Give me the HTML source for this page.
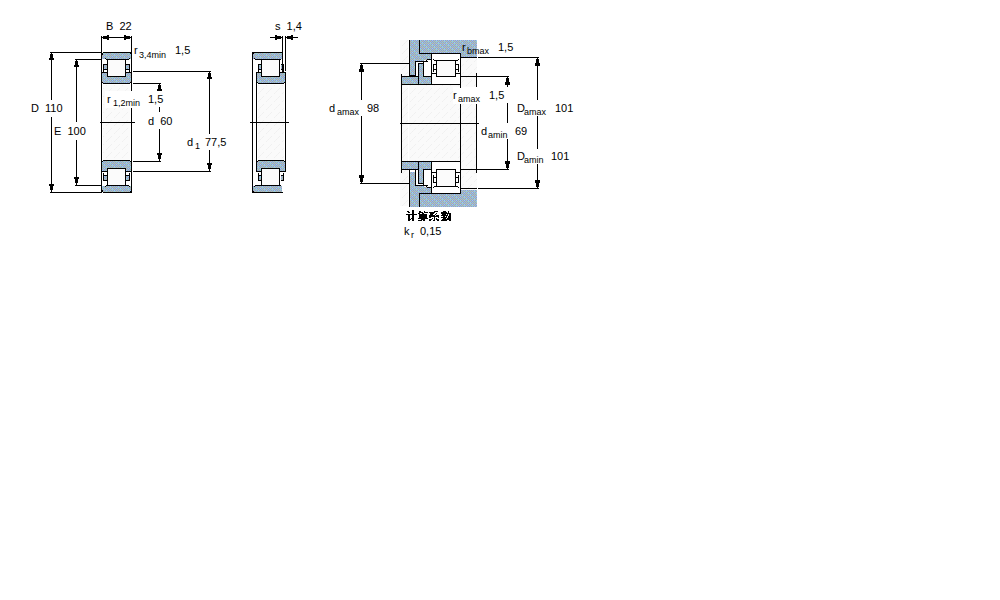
<!DOCTYPE html>
<html><head><meta charset="utf-8"><style>
html,body{margin:0;padding:0;background:#fff;width:1000px;height:600px;overflow:hidden}
svg{display:block}
text{font-family:"Liberation Sans",sans-serif;fill:#000}
</style></head><body>
<svg width="1000" height="600" viewBox="0 0 1000 600" shape-rendering="crispEdges">
<defs>
<filter id="bin" x="0" y="0" width="1000" height="600" filterUnits="userSpaceOnUse" color-interpolation-filters="sRGB">
<feComponentTransfer><feFuncA type="discrete" tableValues="0 1 1 1"/></feComponentTransfer>
</filter>
<pattern id="dith" x="0" y="0" width="8" height="8" patternUnits="userSpaceOnUse">
<rect width="8" height="8" fill="#99cccc"/>
<rect x="0" y="0" width="1" height="1" fill="#99ccff"/>
<rect x="1" y="0" width="1" height="1" fill="#9999cc"/>
<rect x="3" y="0" width="1" height="1" fill="#9999cc"/>
<rect x="4" y="0" width="1" height="1" fill="#99ccff"/>
<rect x="5" y="0" width="1" height="1" fill="#9999cc"/>
<rect x="7" y="0" width="1" height="1" fill="#9999cc"/>
<rect x="0" y="1" width="1" height="1" fill="#9999cc"/>
<rect x="2" y="1" width="1" height="1" fill="#b8a0a8"/>
<rect x="6" y="1" width="1" height="1" fill="#b8a0a8"/>
<rect x="1" y="2" width="1" height="1" fill="#9999cc"/>
<rect x="3" y="2" width="1" height="1" fill="#9999cc"/>
<rect x="5" y="2" width="1" height="1" fill="#9999cc"/>
<rect x="6" y="2" width="1" height="1" fill="#99ccff"/>
<rect x="7" y="2" width="1" height="1" fill="#9999cc"/>
<rect x="0" y="3" width="1" height="1" fill="#b8a0a8"/>
<rect x="2" y="3" width="1" height="1" fill="#b8a0a8"/>
<rect x="4" y="3" width="1" height="1" fill="#b8a0a8"/>
<rect x="0" y="4" width="1" height="1" fill="#99ccff"/>
<rect x="1" y="4" width="1" height="1" fill="#9999cc"/>
<rect x="3" y="4" width="1" height="1" fill="#9999cc"/>
<rect x="4" y="4" width="1" height="1" fill="#99ccff"/>
<rect x="5" y="4" width="1" height="1" fill="#9999cc"/>
<rect x="7" y="4" width="1" height="1" fill="#9999cc"/>
<rect x="2" y="5" width="1" height="1" fill="#b8a0a8"/>
<rect x="4" y="5" width="1" height="1" fill="#9999cc"/>
<rect x="6" y="5" width="1" height="1" fill="#b8a0a8"/>
<rect x="1" y="6" width="1" height="1" fill="#9999cc"/>
<rect x="2" y="6" width="1" height="1" fill="#99ccff"/>
<rect x="3" y="6" width="1" height="1" fill="#9999cc"/>
<rect x="5" y="6" width="1" height="1" fill="#9999cc"/>
<rect x="7" y="6" width="1" height="1" fill="#9999cc"/>
<rect x="0" y="7" width="1" height="1" fill="#b8a0a8"/>
<rect x="4" y="7" width="1" height="1" fill="#b8a0a8"/>
<rect x="6" y="7" width="1" height="1" fill="#b8a0a8"/>
</pattern>
<pattern id="hatch" x="0" y="0" width="8" height="8" patternUnits="userSpaceOnUse">
<rect width="8" height="8" fill="#fafafa"/>
<rect x="7" y="0" width="1" height="1" fill="#f0f0f0"/><rect x="6" y="1" width="1" height="1" fill="#f0f0f0"/>
<rect x="5" y="2" width="1" height="1" fill="#f3f3f3"/><rect x="4" y="3" width="1" height="1" fill="#f0f0f0"/>
<rect x="3" y="4" width="1" height="1" fill="#f3f3f3"/><rect x="2" y="5" width="1" height="1" fill="#f0f0f0"/>
</pattern>
</defs>
<rect x="103" y="85" width="27" height="75" fill="url(#hatch)"/>
<rect x="102" y="53" width="29" height="6" fill="url(#dith)"/>
<rect x="103" y="52" width="29" height="1" fill="#000"/>
<rect x="102" y="53" width="1" height="2" fill="#000"/>
<rect x="106" y="59" width="23" height="1" fill="#000"/>
<rect x="105" y="58" width="1" height="1" fill="#000"/>
<rect x="129" y="58" width="1" height="1" fill="#000"/>
<rect x="102" y="60" width="5" height="12" fill="#ffffff"/>
<rect x="126" y="60" width="5" height="12" fill="#ffffff"/>
<rect x="103" y="64" width="1" height="8" fill="#000"/>
<rect x="103" y="64" width="4" height="1" fill="#000"/>
<rect x="104" y="65" width="3" height="4" fill="url(#dith)"/>
<rect x="103" y="69" width="4" height="1" fill="#000"/>
<rect x="129" y="64" width="1" height="8" fill="#000"/>
<rect x="126" y="64" width="4" height="1" fill="#000"/>
<rect x="126" y="65" width="3" height="4" fill="url(#dith)"/>
<rect x="126" y="69" width="4" height="1" fill="#000"/>
<rect x="102" y="73" width="5" height="10" fill="url(#dith)"/>
<rect x="126" y="73" width="5" height="10" fill="url(#dith)"/>
<rect x="107" y="76" width="19" height="7" fill="url(#dith)"/>
<rect x="101" y="72" width="7" height="1" fill="#000"/>
<rect x="125" y="72" width="7" height="1" fill="#000"/>
<rect x="103" y="83" width="27" height="1" fill="#000"/>
<rect x="102" y="82" width="1" height="1" fill="#000"/>
<rect x="130" y="82" width="1" height="1" fill="#000"/>
<rect x="108" y="60" width="17" height="16" fill="#fbfbfb"/>
<rect x="107" y="59" width="1" height="18" fill="#000"/>
<rect x="125" y="59" width="1" height="18" fill="#000"/>
<rect x="107" y="76" width="19" height="1" fill="#000"/>
<rect x="101" y="52" width="1" height="32" fill="#000"/>
<rect x="131" y="52" width="1" height="32" fill="#000"/>
<rect x="102" y="53" width="1" height="2" fill="#000"/>
<rect x="130" y="53" width="1" height="1" fill="#000"/>
<rect x="102" y="186" width="29" height="6" fill="url(#dith)"/>
<rect x="103" y="192" width="29" height="1" fill="#000"/>
<rect x="102" y="190" width="1" height="2" fill="#000"/>
<rect x="106" y="185" width="23" height="1" fill="#000"/>
<rect x="105" y="186" width="1" height="1" fill="#000"/>
<rect x="129" y="186" width="1" height="1" fill="#000"/>
<rect x="102" y="173" width="5" height="12" fill="#ffffff"/>
<rect x="126" y="173" width="5" height="12" fill="#ffffff"/>
<rect x="103" y="173" width="1" height="8" fill="#000"/>
<rect x="103" y="180" width="4" height="1" fill="#000"/>
<rect x="104" y="176" width="3" height="4" fill="url(#dith)"/>
<rect x="103" y="175" width="4" height="1" fill="#000"/>
<rect x="129" y="173" width="1" height="8" fill="#000"/>
<rect x="126" y="180" width="4" height="1" fill="#000"/>
<rect x="126" y="176" width="3" height="4" fill="url(#dith)"/>
<rect x="126" y="175" width="4" height="1" fill="#000"/>
<rect x="102" y="161" width="5" height="10" fill="url(#dith)"/>
<rect x="126" y="161" width="5" height="10" fill="url(#dith)"/>
<rect x="107" y="161" width="19" height="7" fill="url(#dith)"/>
<rect x="101" y="171" width="7" height="1" fill="#000"/>
<rect x="125" y="171" width="7" height="1" fill="#000"/>
<rect x="103" y="160" width="27" height="1" fill="#000"/>
<rect x="102" y="161" width="1" height="1" fill="#000"/>
<rect x="130" y="161" width="1" height="1" fill="#000"/>
<rect x="108" y="169" width="17" height="16" fill="#fbfbfb"/>
<rect x="107" y="168" width="1" height="18" fill="#000"/>
<rect x="125" y="168" width="1" height="18" fill="#000"/>
<rect x="107" y="168" width="19" height="1" fill="#000"/>
<rect x="101" y="161" width="1" height="32" fill="#000"/>
<rect x="131" y="161" width="1" height="32" fill="#000"/>
<rect x="102" y="190" width="1" height="2" fill="#000"/>
<rect x="130" y="191" width="1" height="1" fill="#000"/>
<rect x="101" y="84" width="1" height="77" fill="#000"/>
<rect x="131" y="84" width="1" height="7" fill="#000"/>
<rect x="131" y="108" width="1" height="53" fill="#000"/>
<rect x="102" y="84" width="1" height="1" fill="#ffffff"/>
<rect x="130" y="84" width="1" height="1" fill="#ffffff"/>
<rect x="100" y="122" width="35" height="1" fill="#000"/>
<rect x="101" y="36" width="1" height="16" fill="#000"/>
<rect x="131" y="36" width="1" height="16" fill="#000"/>
<rect x="101" y="37" width="31" height="1" fill="#000"/>
<rect x="102" y="37" width="1" height="1" fill="#000"/>
<rect x="103" y="36" width="4" height="3" fill="#000"/>
<rect x="107" y="35" width="2" height="5" fill="#000"/>
<rect x="130" y="37" width="1" height="1" fill="#000"/>
<rect x="126" y="36" width="4" height="3" fill="#000"/>
<rect x="124" y="35" width="2" height="5" fill="#000"/>
<rect x="50" y="52" width="52" height="1" fill="#000"/>
<rect x="50" y="192" width="52" height="1" fill="#000"/>
<rect x="51" y="53" width="1" height="47" fill="#000"/>
<rect x="51" y="117" width="1" height="75" fill="#000"/>
<rect x="51" y="53" width="1" height="1" fill="#000"/>
<rect x="50" y="54" width="3" height="4" fill="#000"/>
<rect x="49" y="58" width="5" height="2" fill="#000"/>
<rect x="51" y="190" width="1" height="2" fill="#000"/>
<rect x="50" y="186" width="3" height="4" fill="#000"/>
<rect x="49" y="184" width="5" height="2" fill="#000"/>
<rect x="75" y="59" width="27" height="1" fill="#000"/>
<rect x="75" y="185" width="27" height="1" fill="#000"/>
<rect x="76" y="60" width="1" height="62" fill="#000"/>
<rect x="76" y="140" width="1" height="45" fill="#000"/>
<rect x="76" y="60" width="1" height="1" fill="#000"/>
<rect x="75" y="61" width="3" height="4" fill="#000"/>
<rect x="74" y="65" width="5" height="2" fill="#000"/>
<rect x="76" y="183" width="1" height="2" fill="#000"/>
<rect x="75" y="179" width="3" height="4" fill="#000"/>
<rect x="74" y="177" width="5" height="2" fill="#000"/>
<rect x="133" y="71" width="78" height="1" fill="#000"/>
<rect x="133" y="171" width="78" height="1" fill="#000"/>
<rect x="209" y="72" width="1" height="62" fill="#000"/>
<rect x="209" y="150" width="1" height="21" fill="#000"/>
<rect x="209" y="72" width="1" height="1" fill="#000"/>
<rect x="208" y="73" width="3" height="4" fill="#000"/>
<rect x="207" y="77" width="5" height="2" fill="#000"/>
<rect x="209" y="169" width="1" height="2" fill="#000"/>
<rect x="208" y="165" width="3" height="4" fill="#000"/>
<rect x="207" y="163" width="5" height="2" fill="#000"/>
<rect x="133" y="83" width="28" height="1" fill="#000"/>
<rect x="133" y="161" width="28" height="1" fill="#000"/>
<rect x="159" y="84" width="1" height="6" fill="#000"/>
<rect x="159" y="107" width="1" height="5" fill="#000"/>
<rect x="159" y="129" width="1" height="32" fill="#000"/>
<rect x="159" y="84" width="1" height="1" fill="#000"/>
<rect x="158" y="85" width="3" height="4" fill="#000"/>
<rect x="157" y="89" width="5" height="2" fill="#000"/>
<rect x="159" y="159" width="1" height="2" fill="#000"/>
<rect x="158" y="155" width="3" height="4" fill="#000"/>
<rect x="157" y="153" width="5" height="2" fill="#000"/>
<rect x="105" y="91" width="38" height="17" fill="#ffffff"/>
<rect x="258" y="85" width="26" height="75" fill="url(#hatch)"/>
<rect x="253" y="53" width="29" height="6" fill="url(#dith)"/>
<rect x="253" y="52" width="30" height="1" fill="#000"/>
<rect x="255" y="59" width="26" height="1" fill="#000"/>
<rect x="254" y="58" width="1" height="1" fill="#000"/>
<rect x="253" y="60" width="8" height="12" fill="#ffffff"/>
<rect x="280" y="60" width="2" height="12" fill="#ffffff"/>
<rect x="258" y="64" width="1" height="8" fill="#000"/>
<rect x="258" y="64" width="3" height="1" fill="#000"/>
<rect x="259" y="65" width="2" height="4" fill="url(#dith)"/>
<rect x="258" y="69" width="3" height="1" fill="#000"/>
<rect x="283" y="64" width="1" height="8" fill="#000"/>
<rect x="281" y="64" width="3" height="1" fill="#000"/>
<rect x="281" y="65" width="2" height="4" fill="url(#dith)"/>
<rect x="281" y="69" width="3" height="1" fill="#000"/>
<rect x="257" y="73" width="4" height="10" fill="url(#dith)"/>
<rect x="280" y="73" width="5" height="10" fill="url(#dith)"/>
<rect x="261" y="76" width="19" height="7" fill="url(#dith)"/>
<rect x="256" y="72" width="6" height="1" fill="#000"/>
<rect x="279" y="72" width="7" height="1" fill="#000"/>
<rect x="258" y="83" width="26" height="1" fill="#000"/>
<rect x="257" y="82" width="1" height="1" fill="#000"/>
<rect x="284" y="82" width="1" height="1" fill="#000"/>
<rect x="256" y="72" width="1" height="12" fill="#000"/>
<rect x="285" y="72" width="1" height="12" fill="#000"/>
<rect x="262" y="60" width="17" height="16" fill="#fbfbfb"/>
<rect x="261" y="59" width="1" height="18" fill="#000"/>
<rect x="279" y="59" width="1" height="18" fill="#000"/>
<rect x="261" y="76" width="19" height="1" fill="#000"/>
<rect x="253" y="53" width="1" height="1" fill="#000"/>
<rect x="252" y="52" width="1" height="33" fill="#000"/>
<rect x="253" y="186" width="29" height="6" fill="url(#dith)"/>
<rect x="253" y="192" width="30" height="1" fill="#000"/>
<rect x="255" y="185" width="26" height="1" fill="#000"/>
<rect x="254" y="186" width="1" height="1" fill="#000"/>
<rect x="253" y="173" width="8" height="12" fill="#ffffff"/>
<rect x="280" y="173" width="2" height="12" fill="#ffffff"/>
<rect x="258" y="173" width="1" height="8" fill="#000"/>
<rect x="258" y="180" width="3" height="1" fill="#000"/>
<rect x="259" y="176" width="2" height="4" fill="url(#dith)"/>
<rect x="258" y="175" width="3" height="1" fill="#000"/>
<rect x="283" y="173" width="1" height="8" fill="#000"/>
<rect x="281" y="180" width="3" height="1" fill="#000"/>
<rect x="281" y="176" width="2" height="4" fill="url(#dith)"/>
<rect x="281" y="175" width="3" height="1" fill="#000"/>
<rect x="257" y="161" width="4" height="10" fill="url(#dith)"/>
<rect x="280" y="161" width="5" height="10" fill="url(#dith)"/>
<rect x="261" y="161" width="19" height="7" fill="url(#dith)"/>
<rect x="256" y="171" width="6" height="1" fill="#000"/>
<rect x="279" y="171" width="7" height="1" fill="#000"/>
<rect x="258" y="160" width="26" height="1" fill="#000"/>
<rect x="257" y="161" width="1" height="1" fill="#000"/>
<rect x="284" y="161" width="1" height="1" fill="#000"/>
<rect x="256" y="160" width="1" height="12" fill="#000"/>
<rect x="285" y="160" width="1" height="12" fill="#000"/>
<rect x="262" y="169" width="17" height="16" fill="#fbfbfb"/>
<rect x="261" y="168" width="1" height="18" fill="#000"/>
<rect x="279" y="168" width="1" height="18" fill="#000"/>
<rect x="261" y="168" width="19" height="1" fill="#000"/>
<rect x="253" y="191" width="1" height="1" fill="#000"/>
<rect x="252" y="160" width="1" height="33" fill="#000"/>
<rect x="252" y="84" width="1" height="77" fill="#000"/>
<rect x="256" y="84" width="1" height="77" fill="#000"/>
<rect x="285" y="84" width="1" height="77" fill="#000"/>
<rect x="282" y="36" width="1" height="36" fill="#000"/>
<rect x="285" y="36" width="1" height="35" fill="#000"/>
<rect x="250" y="122" width="39" height="1" fill="#000"/>
<rect x="270" y="37" width="12" height="1" fill="#000"/>
<rect x="286" y="37" width="12" height="1" fill="#000"/>
<rect x="281" y="37" width="1" height="1" fill="#000"/>
<rect x="277" y="36" width="4" height="3" fill="#000"/>
<rect x="275" y="35" width="2" height="5" fill="#000"/>
<rect x="286" y="37" width="1" height="1" fill="#000"/>
<rect x="287" y="36" width="4" height="3" fill="#000"/>
<rect x="291" y="35" width="2" height="5" fill="#000"/>
<rect x="400" y="40" width="77" height="166" fill="url(#hatch)"/>
<rect x="408" y="40" width="1" height="166" fill="#ffffff"/>
<rect x="410" y="40" width="67" height="13" fill="url(#dith)"/>
<rect x="461" y="53" width="16" height="4" fill="url(#dith)"/>
<rect x="410" y="53" width="21" height="7" fill="url(#dith)"/>
<rect x="410" y="60" width="5" height="16" fill="url(#dith)"/>
<rect x="415" y="60" width="9" height="1" fill="url(#dith)"/>
<rect x="409" y="40" width="1" height="37" fill="#000"/>
<rect x="419" y="40" width="1" height="14" fill="#000"/>
<rect x="419" y="53" width="13" height="1" fill="#000"/>
<rect x="409" y="76" width="7" height="1" fill="#000"/>
<rect x="424" y="61" width="7" height="15" fill="#ffffff"/>
<rect x="427" y="59" width="4" height="2" fill="#ffffff"/>
<rect x="424" y="61" width="4" height="1" fill="#000"/>
<rect x="427" y="59" width="5" height="1" fill="#000"/>
<rect x="426" y="60" width="1" height="1" fill="#000"/>
<rect x="415" y="61" width="9" height="1" fill="#000"/>
<rect x="415" y="61" width="1" height="16" fill="#000"/>
<rect x="416" y="62" width="2" height="14" fill="#ffffff"/>
<rect x="418" y="62" width="5" height="1" fill="#ffffff"/>
<rect x="418" y="63" width="6" height="1" fill="#000"/>
<rect x="402" y="77" width="29" height="7" fill="url(#dith)"/>
<rect x="419" y="64" width="4" height="20" fill="url(#dith)"/>
<rect x="418" y="63" width="1" height="22" fill="#000"/>
<rect x="423" y="61" width="1" height="16" fill="#000"/>
<rect x="401" y="76" width="18" height="1" fill="#000"/>
<rect x="423" y="76" width="9" height="1" fill="#000"/>
<rect x="410" y="75" width="5" height="1" fill="#000"/>
<rect x="401" y="84" width="32" height="1" fill="#000"/>
<rect x="432" y="54" width="28" height="30" fill="#ffffff"/>
<rect x="431" y="53" width="30" height="1" fill="#000"/>
<rect x="431" y="53" width="1" height="32" fill="#000"/>
<rect x="460" y="53" width="1" height="32" fill="#000"/>
<rect x="434" y="60" width="24" height="1" fill="#000"/>
<rect x="433" y="59" width="1" height="1" fill="#000"/>
<rect x="458" y="59" width="1" height="1" fill="#000"/>
<rect x="433" y="64" width="1" height="8" fill="#000"/>
<rect x="433" y="64" width="4" height="1" fill="#000"/>
<rect x="433" y="69" width="4" height="1" fill="#000"/>
<rect x="458" y="64" width="1" height="8" fill="#000"/>
<rect x="455" y="64" width="4" height="1" fill="#000"/>
<rect x="455" y="69" width="4" height="1" fill="#000"/>
<rect x="437" y="61" width="18" height="15" fill="#fbfbfb"/>
<rect x="436" y="60" width="1" height="17" fill="#000"/>
<rect x="455" y="60" width="1" height="17" fill="#000"/>
<rect x="436" y="76" width="20" height="1" fill="#000"/>
<rect x="431" y="73" width="6" height="1" fill="#000"/>
<rect x="455" y="73" width="6" height="1" fill="#000"/>
<rect x="431" y="84" width="30" height="1" fill="#000"/>
<rect x="410" y="194" width="67" height="13" fill="url(#dith)"/>
<rect x="461" y="190" width="16" height="4" fill="url(#dith)"/>
<rect x="410" y="187" width="21" height="7" fill="url(#dith)"/>
<rect x="410" y="174" width="5" height="13" fill="url(#dith)"/>
<rect x="410" y="170" width="5" height="4" fill="url(#dith)"/>
<rect x="415" y="186" width="9" height="1" fill="url(#dith)"/>
<rect x="409" y="174" width="1" height="33" fill="#000"/>
<rect x="409" y="169" width="1" height="5" fill="#000"/>
<rect x="419" y="193" width="1" height="14" fill="#000"/>
<rect x="419" y="193" width="13" height="1" fill="#000"/>
<rect x="409" y="169" width="7" height="1" fill="#000"/>
<rect x="424" y="174" width="7" height="12" fill="#ffffff"/>
<rect x="424" y="170" width="7" height="4" fill="#ffffff"/>
<rect x="427" y="186" width="4" height="2" fill="#ffffff"/>
<rect x="424" y="185" width="4" height="1" fill="#000"/>
<rect x="427" y="187" width="5" height="1" fill="#000"/>
<rect x="426" y="186" width="1" height="1" fill="#000"/>
<rect x="415" y="185" width="9" height="1" fill="#000"/>
<rect x="415" y="174" width="1" height="12" fill="#000"/>
<rect x="415" y="169" width="1" height="5" fill="#000"/>
<rect x="416" y="174" width="2" height="11" fill="#ffffff"/>
<rect x="416" y="170" width="2" height="4" fill="#ffffff"/>
<rect x="418" y="184" width="5" height="1" fill="#ffffff"/>
<rect x="418" y="183" width="6" height="1" fill="#000"/>
<rect x="402" y="162" width="29" height="7" fill="url(#dith)"/>
<rect x="419" y="174" width="4" height="9" fill="url(#dith)"/>
<rect x="419" y="162" width="4" height="12" fill="url(#dith)"/>
<rect x="418" y="174" width="1" height="10" fill="#000"/>
<rect x="418" y="161" width="1" height="13" fill="#000"/>
<rect x="423" y="174" width="1" height="12" fill="#000"/>
<rect x="423" y="169" width="1" height="5" fill="#000"/>
<rect x="401" y="169" width="18" height="1" fill="#000"/>
<rect x="423" y="169" width="9" height="1" fill="#000"/>
<rect x="410" y="170" width="5" height="2" fill="#ffffff"/>
<rect x="401" y="161" width="32" height="1" fill="#000"/>
<rect x="432" y="174" width="28" height="19" fill="#ffffff"/>
<rect x="432" y="162" width="28" height="12" fill="#ffffff"/>
<rect x="431" y="193" width="30" height="1" fill="#000"/>
<rect x="431" y="174" width="1" height="20" fill="#000"/>
<rect x="431" y="161" width="1" height="13" fill="#000"/>
<rect x="460" y="174" width="1" height="20" fill="#000"/>
<rect x="460" y="161" width="1" height="13" fill="#000"/>
<rect x="434" y="186" width="24" height="1" fill="#000"/>
<rect x="433" y="187" width="1" height="1" fill="#000"/>
<rect x="458" y="187" width="1" height="1" fill="#000"/>
<rect x="433" y="175" width="1" height="8" fill="#000"/>
<rect x="433" y="182" width="4" height="1" fill="#000"/>
<rect x="433" y="177" width="4" height="1" fill="#000"/>
<rect x="458" y="175" width="1" height="8" fill="#000"/>
<rect x="455" y="182" width="4" height="1" fill="#000"/>
<rect x="455" y="177" width="4" height="1" fill="#000"/>
<rect x="437" y="174" width="18" height="12" fill="#fbfbfb"/>
<rect x="437" y="170" width="18" height="4" fill="#fbfbfb"/>
<rect x="436" y="174" width="1" height="13" fill="#000"/>
<rect x="436" y="169" width="1" height="5" fill="#000"/>
<rect x="455" y="174" width="1" height="13" fill="#000"/>
<rect x="455" y="169" width="1" height="5" fill="#000"/>
<rect x="436" y="169" width="20" height="1" fill="#000"/>
<rect x="431" y="172" width="6" height="1" fill="#000"/>
<rect x="455" y="172" width="6" height="1" fill="#000"/>
<rect x="431" y="161" width="30" height="1" fill="#000"/>
<rect x="401" y="74" width="1" height="99" fill="#000"/>
<rect x="460" y="84" width="1" height="78" fill="#000"/>
<rect x="476" y="73" width="1" height="100" fill="#000"/>
<rect x="400" y="123" width="79" height="1" fill="#000"/>
<rect x="453" y="87" width="25" height="17" fill="#ffffff"/>
<rect x="461" y="57" width="16" height="1" fill="#000"/>
<rect x="478" y="57" width="61" height="1" fill="#000"/>
<rect x="461" y="188" width="16" height="1" fill="#000"/>
<rect x="478" y="188" width="61" height="1" fill="#000"/>
<rect x="461" y="76" width="48" height="1" fill="#000"/>
<rect x="461" y="169" width="48" height="1" fill="#000"/>
<rect x="460" y="84" width="1" height="4" fill="#000"/>
<rect x="460" y="158" width="1" height="4" fill="#000"/>
<rect x="360" y="63" width="50" height="1" fill="#000"/>
<rect x="360" y="183" width="50" height="1" fill="#000"/>
<rect x="361" y="64" width="1" height="36" fill="#000"/>
<rect x="361" y="116" width="1" height="67" fill="#000"/>
<rect x="361" y="64" width="1" height="1" fill="#000"/>
<rect x="360" y="65" width="3" height="4" fill="#000"/>
<rect x="359" y="69" width="5" height="3" fill="#000"/>
<rect x="361" y="182" width="1" height="1" fill="#000"/>
<rect x="360" y="178" width="3" height="4" fill="#000"/>
<rect x="359" y="175" width="5" height="3" fill="#000"/>
<rect x="537" y="58" width="1" height="42" fill="#000"/>
<rect x="537" y="116" width="1" height="33" fill="#000"/>
<rect x="537" y="164" width="1" height="24" fill="#000"/>
<rect x="537" y="58" width="1" height="1" fill="#000"/>
<rect x="536" y="59" width="3" height="4" fill="#000"/>
<rect x="535" y="63" width="5" height="3" fill="#000"/>
<rect x="537" y="187" width="1" height="1" fill="#000"/>
<rect x="536" y="183" width="3" height="4" fill="#000"/>
<rect x="535" y="180" width="5" height="3" fill="#000"/>
<rect x="507" y="77" width="1" height="10" fill="#000"/>
<rect x="507" y="103" width="1" height="20" fill="#000"/>
<rect x="507" y="139" width="1" height="30" fill="#000"/>
<rect x="507" y="77" width="1" height="1" fill="#000"/>
<rect x="506" y="78" width="3" height="4" fill="#000"/>
<rect x="505" y="82" width="5" height="3" fill="#000"/>
<rect x="507" y="168" width="1" height="1" fill="#000"/>
<rect x="506" y="164" width="3" height="4" fill="#000"/>
<rect x="505" y="161" width="5" height="3" fill="#000"/>
<rect x="407" y="211" width="2" height="1" fill="#000"/>
<rect x="408" y="212" width="2" height="1" fill="#000"/>
<rect x="406" y="214" width="11" height="1" fill="#000"/>
<rect x="412" y="210" width="2" height="1" fill="#000"/>
<rect x="412" y="211" width="2" height="1" fill="#000"/>
<rect x="412" y="212" width="2" height="1" fill="#000"/>
<rect x="412" y="213" width="2" height="1" fill="#000"/>
<rect x="408" y="215" width="2" height="1" fill="#000"/>
<rect x="412" y="215" width="2" height="1" fill="#000"/>
<rect x="408" y="216" width="2" height="1" fill="#000"/>
<rect x="412" y="216" width="2" height="1" fill="#000"/>
<rect x="408" y="217" width="2" height="1" fill="#000"/>
<rect x="412" y="217" width="2" height="1" fill="#000"/>
<rect x="408" y="218" width="2" height="1" fill="#000"/>
<rect x="411" y="218" width="3" height="1" fill="#000"/>
<rect x="408" y="219" width="3" height="1" fill="#000"/>
<rect x="412" y="219" width="2" height="1" fill="#000"/>
<rect x="408" y="220" width="2" height="1" fill="#000"/>
<rect x="412" y="220" width="2" height="1" fill="#000"/>
<rect x="419" y="211" width="2" height="1" fill="#000"/>
<rect x="424" y="211" width="1" height="1" fill="#000"/>
<rect x="419" y="212" width="4" height="1" fill="#000"/>
<rect x="424" y="212" width="4" height="1" fill="#000"/>
<rect x="418" y="213" width="2" height="1" fill="#000"/>
<rect x="422" y="213" width="2" height="1" fill="#000"/>
<rect x="419" y="214" width="8" height="1" fill="#000"/>
<rect x="419" y="215" width="8" height="1" fill="#000"/>
<rect x="419" y="216" width="8" height="1" fill="#000"/>
<rect x="419" y="217" width="8" height="1" fill="#000"/>
<rect x="418" y="218" width="10" height="1" fill="#000"/>
<rect x="421" y="219" width="4" height="1" fill="#000"/>
<rect x="418" y="220" width="4" height="1" fill="#000"/>
<rect x="423" y="220" width="2" height="1" fill="#000"/>
<rect x="434" y="211" width="4" height="1" fill="#000"/>
<rect x="429" y="212" width="6" height="1" fill="#000"/>
<rect x="430" y="213" width="4" height="1" fill="#000"/>
<rect x="436" y="213" width="1" height="1" fill="#000"/>
<rect x="430" y="214" width="3" height="1" fill="#000"/>
<rect x="435" y="214" width="1" height="1" fill="#000"/>
<rect x="429" y="215" width="6" height="1" fill="#000"/>
<rect x="436" y="215" width="3" height="1" fill="#000"/>
<rect x="429" y="216" width="10" height="1" fill="#000"/>
<rect x="429" y="217" width="2" height="1" fill="#000"/>
<rect x="434" y="217" width="1" height="1" fill="#000"/>
<rect x="438" y="217" width="1" height="1" fill="#000"/>
<rect x="432" y="218" width="1" height="1" fill="#000"/>
<rect x="434" y="218" width="1" height="1" fill="#000"/>
<rect x="436" y="218" width="1" height="1" fill="#000"/>
<rect x="429" y="219" width="3" height="1" fill="#000"/>
<rect x="434" y="219" width="1" height="1" fill="#000"/>
<rect x="436" y="219" width="3" height="1" fill="#000"/>
<rect x="429" y="220" width="2" height="1" fill="#000"/>
<rect x="433" y="220" width="2" height="1" fill="#000"/>
<rect x="437" y="220" width="2" height="1" fill="#000"/>
<rect x="443" y="211" width="3" height="1" fill="#000"/>
<rect x="448" y="211" width="1" height="1" fill="#000"/>
<rect x="441" y="212" width="6" height="1" fill="#000"/>
<rect x="448" y="212" width="1" height="1" fill="#000"/>
<rect x="441" y="213" width="10" height="1" fill="#000"/>
<rect x="442" y="214" width="4" height="1" fill="#000"/>
<rect x="447" y="214" width="1" height="1" fill="#000"/>
<rect x="449" y="214" width="2" height="1" fill="#000"/>
<rect x="441" y="215" width="7" height="1" fill="#000"/>
<rect x="449" y="215" width="2" height="1" fill="#000"/>
<rect x="443" y="216" width="2" height="1" fill="#000"/>
<rect x="446" y="216" width="1" height="1" fill="#000"/>
<rect x="448" y="216" width="3" height="1" fill="#000"/>
<rect x="441" y="217" width="6" height="1" fill="#000"/>
<rect x="448" y="217" width="3" height="1" fill="#000"/>
<rect x="443" y="218" width="3" height="1" fill="#000"/>
<rect x="447" y="218" width="4" height="1" fill="#000"/>
<rect x="442" y="219" width="9" height="1" fill="#000"/>
<rect x="441" y="220" width="3" height="1" fill="#000"/>
<rect x="444" y="220" width="3" height="1" fill="#000"/>
<rect x="449" y="220" width="2" height="1" fill="#000"/>
<g><text x="106" y="30" font-size="11">B&#160;&#160;22</text>
<text x="31" y="112" font-size="11">D&#160;&#160;110</text>
<text x="54" y="135" font-size="11">E&#160;&#160;100</text>
<text x="134" y="54" font-size="11">r</text>
<text x="139" y="58" font-size="9">3,4min</text>
<text x="175" y="54" font-size="11">1,5</text>
<text x="107" y="103" font-size="11">r</text>
<text x="113" y="106" font-size="9">1,2min</text>
<text x="148" y="103" font-size="11">1,5</text>
<text x="148" y="125" font-size="11">d&#160;&#160;60</text>
<text x="187" y="146" font-size="11">d</text>
<text x="195" y="149" font-size="9">1</text>
<text x="205" y="146" font-size="11">77,5</text>
<text x="275" y="30" font-size="11">s&#160;&#160;1,4</text>
<text x="329" y="112" font-size="11">d</text>
<text x="337" y="115" font-size="9">amax</text>
<text x="367" y="112" font-size="11">98</text>
<text x="462" y="51" font-size="11">r</text>
<text x="467" y="54" font-size="9">bmax</text>
<text x="498" y="51" font-size="11">1,5</text>
<text x="453" y="99" font-size="11">r</text>
<text x="458" y="102" font-size="9">amax</text>
<text x="489" y="99" font-size="11">1,5</text>
<text x="517" y="112" font-size="11">D</text>
<text x="524" y="115" font-size="9">amax</text>
<text x="555" y="112" font-size="11">101</text>
<text x="481" y="135" font-size="11">d</text>
<text x="488" y="138" font-size="9">amin</text>
<text x="515" y="135" font-size="11">69</text>
<text x="517" y="160" font-size="11">D</text>
<text x="524" y="163" font-size="9">amin</text>
<text x="551" y="160" font-size="11">101</text>
<text x="404" y="235" font-size="11">k</text>
<text x="411" y="238" font-size="9">r</text>
<text x="420" y="235" font-size="11">0,15</text></g>
</svg>
</body></html>
